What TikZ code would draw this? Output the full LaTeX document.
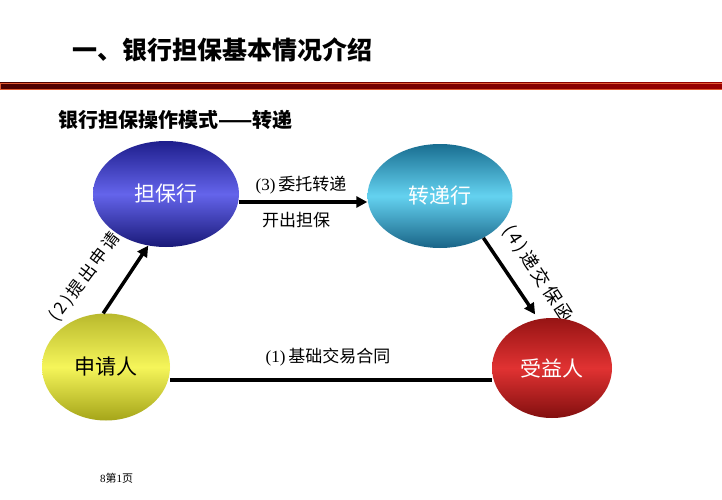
\documentclass[tikz,border=0pt]{standalone}
\usepackage{fontspec}
\setmainfont{Liberation Serif}
\newfontfamily\cjk{Noto Sans CJK SC}
\newfontfamily\cjkspw{Noto Sans CJK SC}[LetterSpace=16]
\usetikzlibrary{shapes.geometric,arrows.meta}
\begin{document}
\begin{tikzpicture}[x=1pt,y=-1pt,
  bub/.style={ellipse, inner sep=0pt, font=\cjk\fontsize{21}{21}\selectfont},
  lab/.style={inner sep=0pt, font=\fontsize{17}{17}\selectfont},
  rlab/.style={inner sep=0pt, font=\cjkspw\fontsize{17}{17}\selectfont},
  conn/.style={line width=4pt},
  arr/.style={line width=3.5pt,-{Triangle[length=11pt,width=11pt]}}]
\useasboundingbox[fill=white] (0,0) rectangle (722,500);
% title
\node[anchor=west, inner sep=0pt, font=\cjk\bfseries\fontsize{25}{25}\selectfont] (title) at (72,50) {一、银行担保基本情况介绍};
\shade[left color=black!70!red, middle color=red!80!black, right color=red!60!black, draw={rgb,255:red,225;green,90;blue,50}, line width=0.6pt] (0,83) rectangle (722,89);
\node[anchor=west, inner sep=0pt, font=\cjk\bfseries\fontsize{20}{20}\selectfont] (sub) at (58,120) {银行担保操作模式——转递};
% ellipses
\node[bub, minimum width=146pt, minimum height=106pt, top color={rgb,255:red,30;green,30;blue,140}, bottom color={rgb,255:red,25;green,25;blue,120}, middle color={rgb,255:red,100;green,100;blue,235}, text=white] (db) at (166,194) {担保行};
\node[bub, minimum width=145pt, minimum height=104pt, top color={rgb,255:red,25;green,110;blue,145}, bottom color={rgb,255:red,25;green,100;blue,135}, middle color={rgb,255:red,100;green,210;blue,240}, text=white] (zd) at (440,196) {转递行};
\node[bub, minimum width=128pt, minimum height=107pt, top color={rgb,255:red,185;green,185;blue,45}, bottom color={rgb,255:red,165;green,165;blue,25}, middle color={rgb,255:red,245;green,245;blue,90}, text=black] (sq) at (106,367) {申请人};
\node[inner sep=0pt, font=\cjkspw\fontsize{18}{18}\selectfont, rotate=-57] (l4) at (538,274) {(4)递交保函};
\node[bub, minimum width=120pt, minimum height=100pt, top color={rgb,255:red,150;green,20;blue,20}, bottom color={rgb,255:red,130;green,15;blue,15}, middle color={rgb,255:red,225;green,50;blue,50}, text=white] (sy) at (552,368) {受益人};
% connectors
\draw[conn] ([yshift=-13pt]sq.east) -- ([yshift=-13pt]sq.east -| sy.west);
\draw[arr] (sq.93) -- (db.251);
\draw[arr] ([yshift=-8pt]db.east) -- ([yshift=-8pt]db.east -| zd.west);
\draw[arr] (zd.-44) -- ([shift={(-2pt,5pt)}]sy.107);
% labels
\node[lab] (l3) at (301,185) {(3)\,{\cjk 委托转递}};
\node[lab] (l3b) at (296,220) {\cjk 开出担保};
\node[lab] (l1) at (328,357) {(1)\,{\cjk 基础交易合同}};
\node[rlab, rotate=53] (l2) at (85,277) {(2)提出申请};
\node[anchor=west, inner sep=0pt, font=\fontsize{11}{11}\selectfont] (foot) at (100,478) {8{\cjk 第}1{\cjk 页}};
\end{tikzpicture}
\end{document}
